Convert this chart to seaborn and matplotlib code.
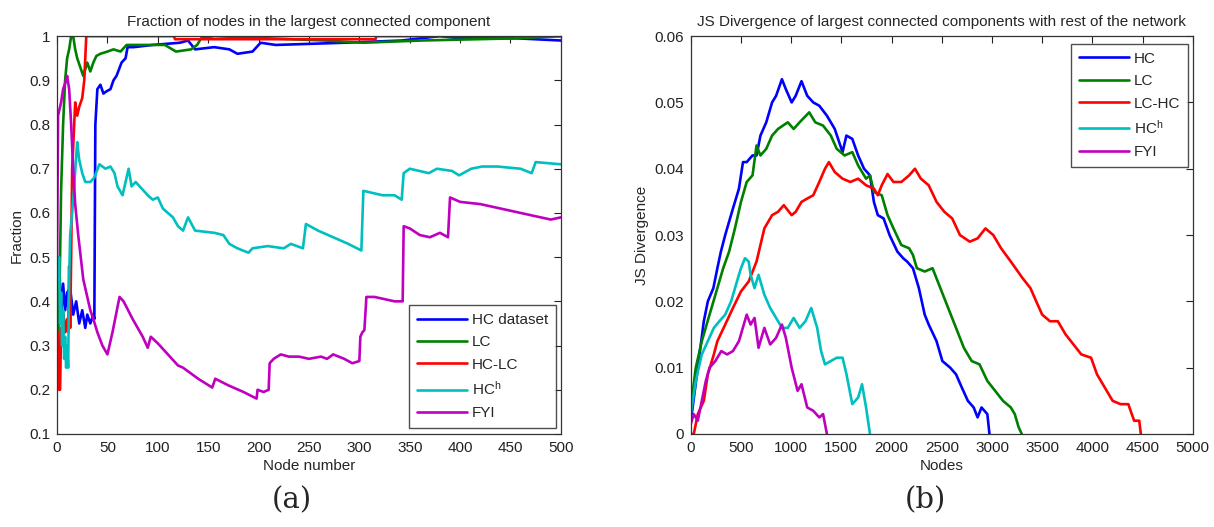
import matplotlib
matplotlib.use("Agg")
import matplotlib.pyplot as plt
import seaborn as sns
import pandas as pd

# ---- panel (a): fraction of nodes in the largest connected component ----
hc_dataset_pts = [(2, 0.5), (4, 0.36), (6, 0.44), (8, 0.38), (10, 0.42), (13, 0.43), (16, 0.37),
                  (19, 0.40), (22, 0.35), (25, 0.38), (28, 0.34), (30, 0.37), (33, 0.35), (36, 0.37),
                  (37, 0.36), (38, 0.80), (40, 0.88), (43, 0.89), (46, 0.87), (49, 0.875), (53, 0.88),
                  (56, 0.90), (59, 0.91), (64, 0.94), (68, 0.95), (70, 0.975), (76, 0.975), (95, 0.98),
                  (122, 0.985), (130, 0.99), (137, 0.97), (156, 0.975), (171, 0.97), (179, 0.96),
                  (194, 0.965), (202, 0.985), (217, 0.98), (285, 0.985), (342, 0.99), (380, 1.0),
                  (400, 0.995), (456, 0.995), (500, 0.99)]
lc_pts = [(1, 0.30), (3, 0.50), (4, 0.65), (6, 0.80), (8, 0.90), (10, 0.95), (12, 0.97), (14, 1.0),
          (16, 1.0), (18, 0.97), (20, 0.95), (23, 0.93), (26, 0.91), (30, 0.94), (33, 0.92), (36, 0.94),
          (39, 0.955), (43, 0.96), (50, 0.965), (56, 0.97), (63, 0.965), (69, 0.98), (83, 0.98),
          (107, 0.98), (118, 0.965), (133, 0.97), (139, 0.98), (143, 0.995), (156, 1.0), (209, 0.995),
          (266, 0.99), (304, 0.985), (361, 0.99), (456, 0.995), (500, 1.0)]
hc_lc_pts = [(1, 0.33), (2, 0.20), (3, 0.20), (4, 0.34), (5, 0.30), (6, 0.38), (8, 0.33), (10, 0.36),
             (11, 0.33), (12, 0.48), (13, 0.34), (14, 0.50), (15, 0.70), (17, 0.80), (18, 0.85),
             (20, 0.82), (22, 0.84), (25, 0.86), (27, 0.90), (29, 1.0), (116, 1.0), (117, 0.993),
             (316, 0.993), (317, 1.0), (500, 1.0)]
hch_pts = [(1, 0.45), (2, 0.50), (3, 0.35), (4, 0.42), (5, 0.30), (6, 0.38), (7, 0.27), (8, 0.32),
           (9, 0.25), (10, 0.30), (11, 0.25), (12, 0.45), (13, 0.55), (15, 0.60), (17, 0.66), (19, 0.73),
           (20, 0.76), (22, 0.72), (25, 0.69), (28, 0.67), (33, 0.67), (37, 0.68), (42, 0.71), (48, 0.70),
           (53, 0.705), (57, 0.69), (60, 0.66), (65, 0.64), (71, 0.70), (74, 0.66), (78, 0.67), (82, 0.66),
           (86, 0.65), (90, 0.64), (95, 0.63), (100, 0.635), (105, 0.61), (110, 0.60), (115, 0.59),
           (120, 0.57), (125, 0.56), (130, 0.59), (137, 0.56), (156, 0.555), (165, 0.55), (171, 0.53),
           (179, 0.52), (190, 0.51), (194, 0.52), (209, 0.525), (225, 0.52), (232, 0.53), (244, 0.52),
           (247, 0.575), (259, 0.56), (274, 0.545), (289, 0.53), (302, 0.515), (304, 0.65), (323, 0.64),
           (335, 0.64), (342, 0.63), (344, 0.69), (350, 0.70), (369, 0.69), (377, 0.70), (392, 0.695),
           (399, 0.685), (411, 0.70), (422, 0.705), (437, 0.705), (460, 0.70), (471, 0.69), (475, 0.715),
           (500, 0.71)]
fyi_pts = [(0, 0.50), (1, 0.82), (4, 0.85), (6, 0.88), (9, 0.90), (10, 0.91), (12, 0.88), (14, 0.80),
           (16, 0.70), (18, 0.62), (21, 0.55), (26, 0.45), (33, 0.38), (36, 0.36), (40, 0.33), (45, 0.30),
           (50, 0.28), (55, 0.33), (62, 0.41), (66, 0.40), (75, 0.36), (85, 0.32), (90, 0.295), (93, 0.32),
           (100, 0.305), (110, 0.28), (120, 0.255), (125, 0.25), (140, 0.225), (154, 0.205), (157, 0.225),
           (170, 0.21), (185, 0.195), (198, 0.18), (199, 0.20), (205, 0.195), (210, 0.20), (211, 0.26),
           (215, 0.27), (222, 0.28), (230, 0.275), (240, 0.275), (250, 0.27), (262, 0.275), (268, 0.27),
           (274, 0.28), (285, 0.27), (293, 0.26), (300, 0.265), (301, 0.32), (303, 0.33), (305, 0.335),
           (307, 0.41), (315, 0.41), (325, 0.405), (335, 0.40), (343, 0.40), (344, 0.57), (350, 0.565),
           (360, 0.55), (370, 0.545), (380, 0.555), (388, 0.545), (390, 0.635), (400, 0.625), (420, 0.62),
           (440, 0.61), (460, 0.60), (480, 0.59), (490, 0.585), (500, 0.59)]

# ---- panel (b): JS divergence ----
js_hc_pts = [(0, 0.003), (10, 0.003), (70, 0.010), (130, 0.017), (170, 0.020), (225, 0.022), (265, 0.025),
             (300, 0.0275), (343, 0.030), (420, 0.034), (480, 0.037), (520, 0.041), (557, 0.041),
             (615, 0.042), (655, 0.042), (694, 0.045), (752, 0.047), (810, 0.050), (850, 0.051),
             (908, 0.0535), (947, 0.052), (1005, 0.050), (1045, 0.051), (1103, 0.0532), (1160, 0.051),
             (1220, 0.050), (1280, 0.0495), (1356, 0.048), (1434, 0.046), (1512, 0.0425), (1550, 0.045),
             (1609, 0.0445), (1667, 0.042), (1726, 0.040), (1785, 0.039), (1824, 0.035), (1863, 0.033),
             (1921, 0.0325), (1980, 0.030), (2058, 0.0275), (2116, 0.0265), (2155, 0.026), (2213, 0.025),
             (2272, 0.022), (2330, 0.018), (2370, 0.0165), (2448, 0.014), (2506, 0.011), (2584, 0.010),
             (2642, 0.009), (2700, 0.007), (2760, 0.005), (2818, 0.004), (2857, 0.0025), (2896, 0.004),
             (2954, 0.003), (2975, 0.0)]
js_lc_pts = [(0, 0.004), (50, 0.010), (110, 0.014), (187, 0.018), (265, 0.022), (323, 0.025),
             (382, 0.0275), (440, 0.031), (500, 0.035), (557, 0.038), (615, 0.039), (655, 0.0435),
             (694, 0.042), (752, 0.043), (810, 0.045), (869, 0.046), (966, 0.047), (1025, 0.046),
             (1084, 0.047), (1180, 0.0485), (1240, 0.047), (1318, 0.0465), (1395, 0.045), (1454, 0.043),
             (1532, 0.042), (1609, 0.0425), (1667, 0.0405), (1746, 0.0385), (1785, 0.039), (1824, 0.0365),
             (1902, 0.036), (1960, 0.033), (2019, 0.031), (2097, 0.0285), (2175, 0.028), (2213, 0.027),
             (2252, 0.025), (2330, 0.0245), (2408, 0.025), (2486, 0.022), (2564, 0.019), (2642, 0.016),
             (2720, 0.013), (2798, 0.011), (2876, 0.0105), (2954, 0.008), (3032, 0.0065), (3110, 0.005),
             (3188, 0.004), (3227, 0.003), (3266, 0.001), (3297, 0.0)]
js_lchc_pts = [(0, 0.0), (30, 0.0), (70, 0.003), (130, 0.005), (170, 0.009), (230, 0.012), (265, 0.014),
               (343, 0.0165), (420, 0.019), (500, 0.0215), (577, 0.023), (655, 0.026), (733, 0.031),
               (810, 0.033), (869, 0.0335), (927, 0.0345), (1005, 0.033), (1045, 0.0335), (1103, 0.035),
               (1160, 0.0355), (1220, 0.036), (1280, 0.038), (1337, 0.040), (1376, 0.041), (1434, 0.0395),
               (1512, 0.0385), (1590, 0.038), (1667, 0.0385), (1746, 0.0375), (1824, 0.037), (1863, 0.036),
               (1902, 0.0375), (1960, 0.0392), (2019, 0.038), (2097, 0.038), (2175, 0.039), (2233, 0.040),
               (2292, 0.0385), (2370, 0.0375), (2448, 0.035), (2526, 0.0335), (2604, 0.0325), (2681, 0.030),
               (2779, 0.029), (2857, 0.0295), (2935, 0.031), (3013, 0.030), (3091, 0.028), (3188, 0.026),
               (3305, 0.0235), (3383, 0.022), (3441, 0.020), (3500, 0.018), (3578, 0.017), (3656, 0.017),
               (3734, 0.015), (3812, 0.0135), (3890, 0.012), (3987, 0.0115), (4046, 0.009), (4124, 0.007),
               (4202, 0.005), (4280, 0.0045), (4358, 0.0045), (4416, 0.002), (4467, 0.002), (4483, 0.0)]
js_hch_pts = [(0, 0.003), (50, 0.008), (110, 0.012), (170, 0.014), (230, 0.016), (285, 0.017),
              (343, 0.018), (402, 0.020), (460, 0.023), (500, 0.025), (540, 0.0265), (577, 0.026),
              (596, 0.024), (635, 0.022), (675, 0.024), (733, 0.021), (791, 0.019), (850, 0.0175),
              (908, 0.016), (966, 0.016), (1025, 0.0175), (1084, 0.016), (1142, 0.017), (1200, 0.019),
              (1259, 0.016), (1298, 0.0125), (1337, 0.0105), (1395, 0.011), (1454, 0.0115), (1512, 0.0115),
              (1551, 0.009), (1609, 0.0045), (1667, 0.0055), (1706, 0.0075), (1746, 0.004), (1785, 0.0)]
js_fyi_pts = [(0, 0.0015), (30, 0.003), (70, 0.002), (110, 0.005), (150, 0.008), (187, 0.010),
              (245, 0.011), (304, 0.0125), (362, 0.012), (420, 0.0125), (480, 0.014), (557, 0.018),
              (596, 0.0165), (635, 0.0175), (675, 0.013), (733, 0.016), (791, 0.0135), (850, 0.0145),
              (908, 0.0165), (947, 0.0145), (1005, 0.010), (1064, 0.0065), (1103, 0.0075), (1160, 0.004),
              (1220, 0.0035), (1280, 0.0025), (1318, 0.003), (1356, 0.0)]

colors = ["#0000ff", "#008000", "#ff0000", "#00bfbf", "#bf00bf"]
left_labels = ["HC dataset", "LC", "HC-LC", "HC$^{\\mathregular{h}}$", "FYI"]
right_labels = ["HC", "LC", "LC-HC", "HC$^{\\mathregular{h}}$", "FYI"]

sns.set_style("white")
plt.rcParams["font.family"] = ["Liberation Sans Narrow", "Liberation Sans", "DejaVu Sans"]
plt.rcParams["mathtext.default"] = "regular"

fig = plt.figure(figsize=(12.14, 5.27), dpi=100)
ax1 = fig.add_axes([0.047, 0.1765, 0.415, 0.755])
ax2 = fig.add_axes([0.569, 0.1765, 0.4135, 0.755])


def draw(ax, series, labels):
    for pts, lab, col in zip(series, labels, colors):
        df = pd.DataFrame(pts, columns=["x", "y"])
        sns.lineplot(data=df, x="x", y="y", ax=ax, color=col, lw=1.9, label=lab,
                     sort=False, estimator=None)
    for s in ax.spines.values():
        s.set_color("#333333")
        s.set_linewidth(0.9)
    ax.tick_params(direction="in", top=True, right=True, length=5, width=0.8,
                   labelsize=11, colors="#222222", pad=5)


draw(ax1, [hc_dataset_pts, lc_pts, hc_lc_pts, hch_pts, fyi_pts], left_labels)
ax1.set_xlim(0, 500)
ax1.set_ylim(0.1, 1)
ax1.set_xticks(range(0, 501, 50))
ax1.set_yticks([0.1, 0.2, 0.3, 0.4, 0.5, 0.6, 0.7, 0.8, 0.9, 1.0])
ax1.set_yticklabels(["0.1", "0.2", "0.3", "0.4", "0.5", "0.6", "0.7", "0.8", "0.9", "1"])
ax1.set_title("Fraction of nodes in the largest connected component", fontsize=11, pad=7)
ax1.set_xlabel("Node number", fontsize=11, labelpad=3)
ax1.set_ylabel("Fraction", fontsize=11, labelpad=4)
leg1 = ax1.legend(loc="lower right", bbox_to_anchor=(0.99, 0.015), fontsize=11, frameon=True,
                  fancybox=False, handlelength=3.3, labelspacing=0.55, borderpad=0.5,
                  handletextpad=0.3, borderaxespad=0)
leg1.get_frame().set_edgecolor("#222222")
leg1.get_frame().set_linewidth(1.0)

draw(ax2, [js_hc_pts, js_lc_pts, js_lchc_pts, js_hch_pts, js_fyi_pts], right_labels)
ax2.set_xlim(0, 5000)
ax2.set_ylim(0, 0.06)
ax2.set_xticks(range(0, 5001, 500))
ax2.set_yticks([0, 0.01, 0.02, 0.03, 0.04, 0.05, 0.06])
ax2.set_yticklabels(["0", "0.01", "0.02", "0.03", "0.04", "0.05", "0.06"])
ax2.set_title("JS Divergence of largest connected components with rest of the network",
              fontsize=11, pad=7)
ax2.set_xlabel("Nodes", fontsize=11, labelpad=3)
ax2.set_ylabel("JS Divergence", fontsize=11, labelpad=4)
leg2 = ax2.legend(loc="upper right", bbox_to_anchor=(0.99, 0.98), fontsize=11, frameon=True,
                  fancybox=False, handlelength=3.3, labelspacing=0.55, borderpad=0.5,
                  handletextpad=0.3, borderaxespad=0)
leg2.get_frame().set_edgecolor("#222222")
leg2.get_frame().set_linewidth(1.0)

fig.text(0.24, 0.05, "(a)", fontsize=21, family="DejaVu Serif", ha="center", va="center")
fig.text(0.762, 0.05, "(b)", fontsize=21, family="DejaVu Serif", ha="center", va="center")

fig.savefig("out.png", dpi=100, facecolor="white")
